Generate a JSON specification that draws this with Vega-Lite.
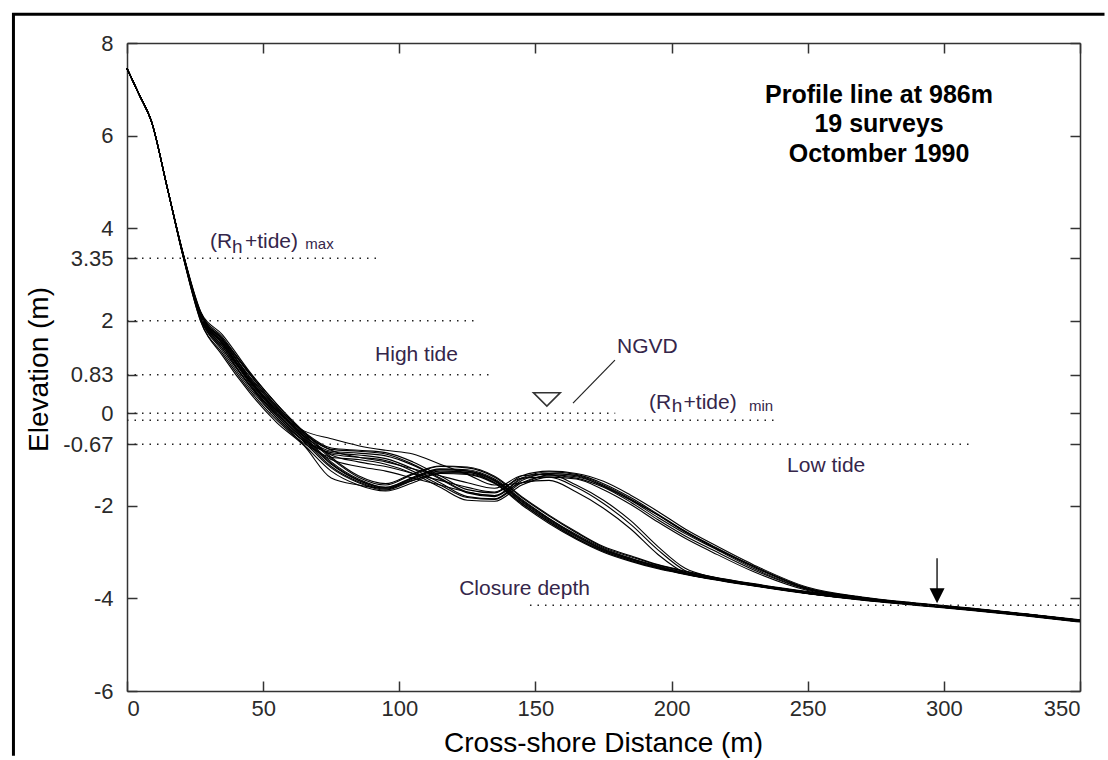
{
  "$schema": "https://vega.github.io/schema/vega-lite/v6.json",
  "width": 953,
  "height": 648,
  "autosize": {"type": "none"},
  "padding": {"left": 127, "top": 43, "right": 28, "bottom": 69},
  "background": "white",
  "data": {"values": [{}]},
  "datasets": {
    "profiles": [
      {"x": 0, "s01": 7.45, "s02": 7.45, "s03": 7.45, "s04": 7.45, "s05": 7.45, "s06": 7.45, "s07": 7.45, "s08": 7.45, "s09": 7.45, "s10": 7.45, "s11": 7.45, "s12": 7.45, "s13": 7.45, "s14": 7.45, "s15": 7.45, "s16": 7.45, "s17": 7.45, "s18": 7.45, "s19": 7.45},
      {"x": 4.5, "s01": 6.88, "s02": 6.88, "s03": 6.88, "s04": 6.88, "s05": 6.88, "s06": 6.88, "s07": 6.88, "s08": 6.88, "s09": 6.88, "s10": 6.88, "s11": 6.88, "s12": 6.88, "s13": 6.88, "s14": 6.88, "s15": 6.88, "s16": 6.88, "s17": 6.88, "s18": 6.88, "s19": 6.88},
      {"x": 9, "s01": 6.3, "s02": 6.3, "s03": 6.3, "s04": 6.3, "s05": 6.3, "s06": 6.3, "s07": 6.3, "s08": 6.3, "s09": 6.3, "s10": 6.3, "s11": 6.3, "s12": 6.3, "s13": 6.3, "s14": 6.3, "s15": 6.3, "s16": 6.3, "s17": 6.3, "s18": 6.3, "s19": 6.3},
      {"x": 14.8, "s01": 4.87, "s02": 4.87, "s03": 4.87, "s04": 4.87, "s05": 4.87, "s06": 4.87, "s07": 4.87, "s08": 4.87, "s09": 4.87, "s10": 4.87, "s11": 4.87, "s12": 4.87, "s13": 4.87, "s14": 4.87, "s15": 4.87, "s16": 4.87, "s17": 4.87, "s18": 4.87, "s19": 4.87},
      {"x": 20.5, "s01": 3.45, "s02": 3.46, "s03": 3.44, "s04": 3.47, "s05": 3.43, "s06": 3.45, "s07": 3.48, "s08": 3.44, "s09": 3.42, "s10": 3.45, "s11": 3.47, "s12": 3.41, "s13": 3.46, "s14": 3.44, "s15": 3.45, "s16": 3.47, "s17": 3.43, "s18": 3.48, "s19": 3.41},
      {"x": 27, "s01": 2.12, "s02": 2.15, "s03": 2.10, "s04": 2.18, "s05": 2.08, "s06": 2.14, "s07": 2.20, "s08": 2.10, "s09": 2.05, "s10": 2.10, "s11": 2.15, "s12": 2.00, "s13": 2.12, "s14": 2.08, "s15": 2.10, "s16": 2.15, "s17": 2.05, "s18": 2.20, "s19": 2.00},
      {"x": 35, "s01": 1.55, "s02": 1.60, "s03": 1.50, "s04": 1.65, "s05": 1.45, "s06": 1.58, "s07": 1.70, "s08": 1.52, "s09": 1.35, "s10": 1.45, "s11": 1.60, "s12": 1.30, "s13": 1.50, "s14": 1.40, "s15": 1.55, "s16": 1.62, "s17": 1.40, "s18": 1.50, "s19": 1.25},
      {"x": 45, "s01": 0.70, "s02": 0.78, "s03": 0.65, "s04": 0.85, "s05": 0.60, "s06": 0.75, "s07": 0.90, "s08": 0.68, "s09": 0.55, "s10": 0.70, "s11": 0.85, "s12": 0.50, "s13": 0.72, "s14": 0.62, "s15": 0.80, "s16": 0.88, "s17": 0.60, "s18": 0.75, "s19": 0.45},
      {"x": 55, "s01": 0.02, "s02": 0.10, "s03": -0.05, "s04": 0.15, "s05": -0.10, "s06": 0.05, "s07": 0.20, "s08": 0.00, "s09": -0.10, "s10": 0.05, "s11": 0.15, "s12": -0.15, "s13": 0.08, "s14": -0.02, "s15": 0.12, "s16": 0.20, "s17": -0.05, "s18": 0.05, "s19": -0.20},
      {"x": 65, "s01": -0.55, "s02": -0.50, "s03": -0.62, "s04": -0.45, "s05": -0.68, "s06": -0.52, "s07": -0.40, "s08": -0.58, "s09": -0.60, "s10": -0.45, "s11": -0.40, "s12": -0.65, "s13": -0.50, "s14": -0.55, "s15": -0.48, "s16": -0.42, "s17": -0.60, "s18": -0.38, "s19": -0.70},
      {"x": 75, "s01": -1.10, "s02": -1.05, "s03": -1.18, "s04": -0.98, "s05": -1.25, "s06": -1.08, "s07": -0.95, "s08": -1.15, "s09": -0.85, "s10": -0.78, "s11": -0.75, "s12": -0.95, "s13": -0.82, "s14": -0.88, "s15": -0.90, "s16": -0.80, "s17": -1.00, "s18": -0.55, "s19": -1.40},
      {"x": 85, "s01": -1.45, "s02": -1.42, "s03": -1.50, "s04": -1.38, "s05": -1.55, "s06": -1.44, "s07": -1.35, "s08": -1.48, "s09": -0.90, "s10": -0.82, "s11": -0.80, "s12": -1.00, "s13": -0.86, "s14": -0.95, "s15": -1.05, "s16": -0.95, "s17": -1.15, "s18": -0.70, "s19": -1.55},
      {"x": 95, "s01": -1.62, "s02": -1.60, "s03": -1.66, "s04": -1.55, "s05": -1.68, "s06": -1.60, "s07": -1.52, "s08": -1.64, "s09": -0.98, "s10": -0.88, "s11": -0.85, "s12": -1.10, "s13": -0.92, "s14": -1.02, "s15": -1.15, "s16": -1.05, "s17": -1.25, "s18": -0.80, "s19": -1.62},
      {"x": 105, "s01": -1.40, "s02": -1.38, "s03": -1.45, "s04": -1.32, "s05": -1.50, "s06": -1.40, "s07": -1.30, "s08": -1.42, "s09": -1.20, "s10": -1.10, "s11": -1.05, "s12": -1.30, "s13": -1.12, "s14": -1.25, "s15": -1.30, "s16": -1.20, "s17": -1.40, "s18": -0.88, "s19": -1.45},
      {"x": 115, "s01": -1.22, "s02": -1.20, "s03": -1.28, "s04": -1.15, "s05": -1.30, "s06": -1.22, "s07": -1.14, "s08": -1.25, "s09": -1.50, "s10": -1.40, "s11": -1.35, "s12": -1.60, "s13": -1.42, "s14": -1.55, "s15": -1.45, "s16": -1.35, "s17": -1.55, "s18": -1.10, "s19": -1.30},
      {"x": 125, "s01": -1.25, "s02": -1.22, "s03": -1.30, "s04": -1.18, "s05": -1.32, "s06": -1.24, "s07": -1.16, "s08": -1.27, "s09": -1.80, "s10": -1.70, "s11": -1.65, "s12": -1.88, "s13": -1.72, "s14": -1.82, "s15": -1.60, "s16": -1.50, "s17": -1.70, "s18": -1.32, "s19": -1.28},
      {"x": 135, "s01": -1.45, "s02": -1.42, "s03": -1.50, "s04": -1.38, "s05": -1.52, "s06": -1.44, "s07": -1.36, "s08": -1.47, "s09": -1.85, "s10": -1.78, "s11": -1.72, "s12": -1.90, "s13": -1.80, "s14": -1.86, "s15": -1.70, "s16": -1.62, "s17": -1.78, "s18": -1.55, "s19": -1.50},
      {"x": 145, "s01": -1.90, "s02": -1.86, "s03": -1.95, "s04": -1.82, "s05": -1.98, "s06": -1.88, "s07": -1.80, "s08": -1.92, "s09": -1.45, "s10": -1.40, "s11": -1.35, "s12": -1.55, "s13": -1.42, "s14": -1.50, "s15": -1.40, "s16": -1.35, "s17": -1.50, "s18": -1.50, "s19": -1.95},
      {"x": 155, "s01": -2.30, "s02": -2.27, "s03": -2.35, "s04": -2.22, "s05": -2.38, "s06": -2.28, "s07": -2.20, "s08": -2.32, "s09": -1.30, "s10": -1.27, "s11": -1.25, "s12": -1.38, "s13": -1.30, "s14": -1.35, "s15": -1.38, "s16": -1.32, "s17": -1.45, "s18": -1.33, "s19": -2.35},
      {"x": 165, "s01": -2.65, "s02": -2.62, "s03": -2.70, "s04": -2.58, "s05": -2.72, "s06": -2.64, "s07": -2.56, "s08": -2.67, "s09": -1.35, "s10": -1.32, "s11": -1.30, "s12": -1.42, "s13": -1.34, "s14": -1.40, "s15": -1.60, "s16": -1.55, "s17": -1.70, "s18": -1.37, "s19": -2.70},
      {"x": 175, "s01": -2.95, "s02": -2.92, "s03": -2.98, "s04": -2.90, "s05": -3.00, "s06": -2.94, "s07": -2.88, "s08": -2.96, "s09": -1.58, "s10": -1.52, "s11": -1.47, "s12": -1.65, "s13": -1.55, "s14": -1.60, "s15": -1.95, "s16": -1.88, "s17": -2.05, "s18": -1.57, "s19": -2.98},
      {"x": 185, "s01": -3.15, "s02": -3.13, "s03": -3.18, "s04": -3.10, "s05": -3.20, "s06": -3.14, "s07": -3.08, "s08": -3.16, "s09": -1.88, "s10": -1.82, "s11": -1.77, "s12": -1.97, "s13": -1.85, "s14": -1.92, "s15": -2.40, "s16": -2.32, "s17": -2.50, "s18": -1.87, "s19": -3.18},
      {"x": 195, "s01": -3.32, "s02": -3.30, "s03": -3.34, "s04": -3.28, "s05": -3.36, "s06": -3.31, "s07": -3.27, "s08": -3.33, "s09": -2.25, "s10": -2.18, "s11": -2.12, "s12": -2.35, "s13": -2.20, "s14": -2.30, "s15": -2.95, "s16": -2.88, "s17": -3.05, "s18": -2.20, "s19": -3.34},
      {"x": 205, "s01": -3.45, "s02": -3.44, "s03": -3.47, "s04": -3.42, "s05": -3.48, "s06": -3.45, "s07": -3.41, "s08": -3.46, "s09": -2.60, "s10": -2.55, "s11": -2.50, "s12": -2.70, "s13": -2.57, "s14": -2.65, "s15": -3.40, "s16": -3.35, "s17": -3.45, "s18": -2.55, "s19": -3.47},
      {"x": 215, "s01": -3.56, "s02": -3.55, "s03": -3.58, "s04": -3.54, "s05": -3.59, "s06": -3.56, "s07": -3.53, "s08": -3.57, "s09": -2.90, "s10": -2.86, "s11": -2.82, "s12": -3.00, "s13": -2.88, "s14": -2.95, "s15": -3.56, "s16": -3.54, "s17": -3.58, "s18": -2.88, "s19": -3.58},
      {"x": 230, "s01": -3.71, "s02": -3.70, "s03": -3.72, "s04": -3.69, "s05": -3.73, "s06": -3.71, "s07": -3.68, "s08": -3.72, "s09": -3.35, "s10": -3.30, "s11": -3.27, "s12": -3.42, "s13": -3.32, "s14": -3.38, "s15": -3.70, "s16": -3.69, "s17": -3.72, "s18": -3.30, "s19": -3.72},
      {"x": 250, "s01": -3.88, "s02": -3.87, "s03": -3.89, "s04": -3.86, "s05": -3.90, "s06": -3.88, "s07": -3.85, "s08": -3.89, "s09": -3.80, "s10": -3.78, "s11": -3.76, "s12": -3.83, "s13": -3.79, "s14": -3.81, "s15": -3.87, "s16": -3.86, "s17": -3.89, "s18": -3.78, "s19": -3.89},
      {"x": 270, "s01": -4.02, "s02": -4.01, "s03": -4.03, "s04": -4.00, "s05": -4.04, "s06": -4.02, "s07": -4.00, "s08": -4.03, "s09": -3.99, "s10": -3.98, "s11": -3.97, "s12": -4.01, "s13": -3.98, "s14": -4.00, "s15": -4.02, "s16": -4.01, "s17": -4.03, "s18": -3.98, "s19": -4.03},
      {"x": 290, "s01": -4.13, "s02": -4.12, "s03": -4.14, "s04": -4.11, "s05": -4.15, "s06": -4.13, "s07": -4.11, "s08": -4.14, "s09": -4.12, "s10": -4.11, "s11": -4.10, "s12": -4.13, "s13": -4.12, "s14": -4.13, "s15": -4.13, "s16": -4.12, "s17": -4.14, "s18": -4.11, "s19": -4.14},
      {"x": 310, "s01": -4.24, "s02": -4.23, "s03": -4.25, "s04": -4.22, "s05": -4.26, "s06": -4.24, "s07": -4.22, "s08": -4.25, "s09": -4.23, "s10": -4.22, "s11": -4.21, "s12": -4.24, "s13": -4.23, "s14": -4.24, "s15": -4.24, "s16": -4.23, "s17": -4.25, "s18": -4.22, "s19": -4.25},
      {"x": 330, "s01": -4.36, "s02": -4.35, "s03": -4.37, "s04": -4.34, "s05": -4.38, "s06": -4.36, "s07": -4.34, "s08": -4.37, "s09": -4.35, "s10": -4.34, "s11": -4.33, "s12": -4.36, "s13": -4.35, "s14": -4.36, "s15": -4.36, "s16": -4.35, "s17": -4.37, "s18": -4.34, "s19": -4.37},
      {"x": 350, "s01": -4.49, "s02": -4.48, "s03": -4.50, "s04": -4.47, "s05": -4.51, "s06": -4.49, "s07": -4.47, "s08": -4.50, "s09": -4.48, "s10": -4.47, "s11": -4.46, "s12": -4.49, "s13": -4.48, "s14": -4.49, "s15": -4.49, "s16": -4.48, "s17": -4.50, "s18": -4.47, "s19": -4.50}
    ],
    "levels": [
      {"z": 3.35, "x1": 0, "x2": 93.5},
      {"z": 2, "x1": 0, "x2": 127.3},
      {"z": 0.83, "x1": 0, "x2": 133.3},
      {"z": 0, "x1": 0, "x2": 179.3},
      {"z": -0.15, "x1": 0, "x2": 239},
      {"z": -0.67, "x1": 0, "x2": 310.5},
      {"z": -4.15, "x1": 148, "x2": 350}
    ]
  },
  "layer": [
    {
      "data": {"name": "profiles"},
      "transform": [
        {"fold": ["s01", "s02", "s03", "s04", "s05", "s06", "s07", "s08", "s09", "s10", "s11", "s12", "s13", "s14", "s15", "s16", "s17", "s18", "s19"], "as": ["survey", "z"]}
      ],
      "mark": {"type": "line", "color": "#000", "strokeWidth": 1.1, "interpolate": "monotone"},
      "encoding": {
        "x": {
          "field": "x", "type": "quantitative",
          "scale": {"domain": [0, 350], "nice": false, "zero": false},
          "axis": {
            "orient": "bottom",
            "values": [0, 50, 100, 150, 200, 250, 300, 350],
            "tickSize": -10, "labelPadding": 17,
            "title": "Cross-shore Distance (m)",
            "titleFontSize": 28, "titleFontWeight": "normal",
            "titleX": 476, "titleY": 60, "titleBaseline": "alphabetic", "titleAlign": "center"
          }
        },
        "y": {
          "field": "z", "type": "quantitative",
          "scale": {"domain": [-6, 8], "nice": false, "zero": false},
          "axis": {
            "orient": "left",
            "values": [-6, -4, -2, -0.67, 0, 0.83, 2, 3.35, 4, 6, 8],
            "labelExpr": "toString(datum.value)",
            "tickSize": -10, "labelPadding": 24,
            "title": "Elevation (m)",
            "titleFontSize": 28, "titleFontWeight": "normal",
            "titleX": -80, "titleY": 326, "titleBaseline": "alphabetic", "titleAlign": "center", "titleAngle": 270
          }
        },
        "detail": {"field": "survey"}
      }
    },
    {
      "data": {"name": "levels"},
      "mark": {"type": "rule", "color": "#222", "strokeWidth": 1.5, "strokeDash": [1.5, 6]},
      "encoding": {
        "x": {
          "field": "x1", "type": "quantitative",
          "scale": {"domain": [0, 350], "nice": false, "zero": false},
          "axis": {"orient": "top", "values": [0, 50, 100, 150, 200, 250, 300, 350], "tickSize": -10, "labels": false, "title": null}
        },
        "x2": {"field": "x2"},
        "y": {
          "field": "z", "type": "quantitative",
          "scale": {"domain": [-6, 8], "nice": false, "zero": false},
          "axis": {"orient": "right", "values": [-6, -4, -2, -0.67, 0, 0.83, 2, 3.35, 4, 6, 8], "tickSize": -10, "labels": false, "title": null}
        }
      }
    },
    {
      "mark": {"type": "rule", "color": "#000", "strokeWidth": 3},
      "encoding": {
        "x": {"datum": -41.7, "type": "quantitative", "axis": null},
        "y": {"datum": 8.65, "type": "quantitative", "axis": null},
        "y2": {"datum": -7.4}
      }
    },
    {
      "mark": {"type": "rule", "color": "#000", "strokeWidth": 3},
      "encoding": {
        "x": {"datum": -42.2, "type": "quantitative", "axis": null},
        "x2": {"datum": 359},
        "y": {"datum": 8.62, "type": "quantitative", "axis": null}
      }
    },
    {
      "mark": {"type": "rule", "color": "#222", "strokeWidth": 1.2},
      "encoding": {
        "x": {"datum": 163.8, "type": "quantitative", "axis": null},
        "x2": {"datum": 179.2},
        "y": {"datum": 0.22, "type": "quantitative", "axis": null},
        "y2": {"datum": 1.15}
      }
    },
    {
      "mark": {"type": "point", "shape": "M-1,-0.5L1,-0.5L0,0.5Z", "size": 729, "filled": false, "stroke": "#333", "strokeWidth": 1.5, "opacity": 1},
      "encoding": {
        "x": {"datum": 154.2, "type": "quantitative", "axis": null},
        "y": {"datum": 0.30, "type": "quantitative", "axis": null}
      }
    },
    {
      "mark": {"type": "rule", "color": "#000", "strokeWidth": 1.3},
      "encoding": {
        "x": {"datum": 297.5, "type": "quantitative", "axis": null},
        "y": {"datum": -3.13, "type": "quantitative", "axis": null},
        "y2": {"datum": -3.8}
      }
    },
    {
      "mark": {"type": "point", "shape": "M-1,-1L1,-1L0,1Z", "size": 225, "filled": true, "color": "#000", "opacity": 1},
      "encoding": {
        "x": {"datum": 297.5, "type": "quantitative", "axis": null},
        "y": {"datum": -3.94, "type": "quantitative", "axis": null}
      }
    },
    {
      "mark": {"type": "text", "text": "(R"},
      "encoding": {"x": {"datum": 30.5, "type": "quantitative", "axis": null}, "y": {"datum": 3.57, "type": "quantitative", "axis": null}}
    },
    {
      "mark": {"type": "text", "text": "h", "fontSize": 19},
      "encoding": {"x": {"datum": 38.6, "type": "quantitative", "axis": null}, "y": {"datum": 3.47, "type": "quantitative", "axis": null}}
    },
    {
      "mark": {"type": "text", "text": "+tide)"},
      "encoding": {"x": {"datum": 43.3, "type": "quantitative", "axis": null}, "y": {"datum": 3.57, "type": "quantitative", "axis": null}}
    },
    {
      "mark": {"type": "text", "text": "max", "fontSize": 15},
      "encoding": {"x": {"datum": 65.5, "type": "quantitative", "axis": null}, "y": {"datum": 3.55, "type": "quantitative", "axis": null}}
    },
    {
      "mark": {"type": "text", "text": "High tide"},
      "encoding": {"x": {"datum": 91.1, "type": "quantitative", "axis": null}, "y": {"datum": 1.14, "type": "quantitative", "axis": null}}
    },
    {
      "mark": {"type": "text", "text": "NGVD"},
      "encoding": {"x": {"datum": 180, "type": "quantitative", "axis": null}, "y": {"datum": 1.31, "type": "quantitative", "axis": null}}
    },
    {
      "mark": {"type": "text", "text": "(R"},
      "encoding": {"x": {"datum": 191.7, "type": "quantitative", "axis": null}, "y": {"datum": 0.09, "type": "quantitative", "axis": null}}
    },
    {
      "mark": {"type": "text", "text": "h", "fontSize": 19},
      "encoding": {"x": {"datum": 200.1, "type": "quantitative", "axis": null}, "y": {"datum": 0.02, "type": "quantitative", "axis": null}}
    },
    {
      "mark": {"type": "text", "text": "+tide)"},
      "encoding": {"x": {"datum": 204.4, "type": "quantitative", "axis": null}, "y": {"datum": 0.09, "type": "quantitative", "axis": null}}
    },
    {
      "mark": {"type": "text", "text": "min", "fontSize": 15},
      "encoding": {"x": {"datum": 228.4, "type": "quantitative", "axis": null}, "y": {"datum": 0.05, "type": "quantitative", "axis": null}}
    },
    {
      "mark": {"type": "text", "text": "Low tide"},
      "encoding": {"x": {"datum": 242.4, "type": "quantitative", "axis": null}, "y": {"datum": -1.26, "type": "quantitative", "axis": null}}
    },
    {
      "mark": {"type": "text", "text": "Closure depth"},
      "encoding": {"x": {"datum": 122, "type": "quantitative", "axis": null}, "y": {"datum": -3.93, "type": "quantitative", "axis": null}}
    },
    {
      "mark": {"type": "text", "text": ["Profile line at 986m", "19 surveys", "Octomber 1990"], "fontSize": 25, "fontWeight": "bold", "color": "#000", "align": "center", "baseline": "alphabetic", "lineHeight": 29.5},
      "encoding": {"x": {"datum": 276.2, "type": "quantitative", "axis": null}, "y": {"datum": 6.71, "type": "quantitative", "axis": null}}
    }
  ],
  "resolve": {"axis": {"x": "independent", "y": "independent"}},
  "config": {
    "font": "Liberation Sans",
    "view": {"stroke": null},
    "axis": {
      "grid": false,
      "domainColor": "#333", "domainWidth": 1.5,
      "tickColor": "#333", "tickWidth": 1.5,
      "labelColor": "#2a2a2a", "labelFont": "Liberation Sans", "labelFontSize": 22,
      "titleFont": "Liberation Sans", "titleColor": "#000"
    },
    "text": {"font": "Liberation Sans", "fontSize": 21, "color": "#35264a", "align": "left", "baseline": "alphabetic"}
  }
}
